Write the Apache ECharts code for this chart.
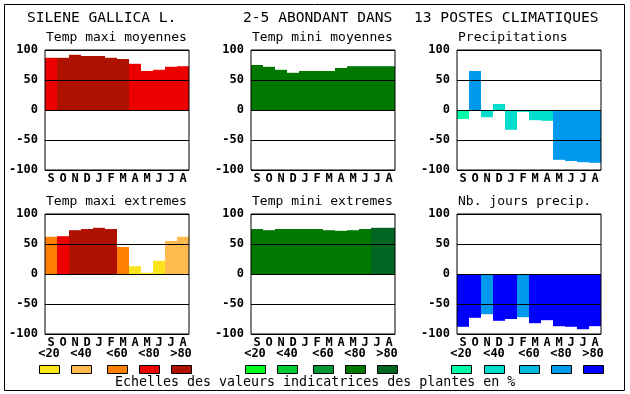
<!DOCTYPE html>
<html><head><meta charset="utf-8">
<script src="https://cdn.jsdelivr.net/npm/echarts@6/dist/echarts.min.js"></script>
<style>html,body{margin:0;padding:0;background:#fff}#c{width:630px;height:394px}</style>
</head><body><div id="c"></div>
<script>
var months = ['S','O','N','D','J','F','M','A','M','J','J','A'];
var yTicks = [-100, -50, 0, 50, 100];
var legendLabels = ['<20','<40','<60','<80','>80'];
var titleParts = ['SILENE GALLICA L.', '2-5 ABONDANT DANS', '13 POSTES CLIMATIQUES'];
var panelTitles = ['Temp maxi moyennes','Temp mini moyennes','Precipitations','Temp maxi extremes','Temp mini extremes','Nb. jours precip.'];
var footText = 'Echelles des valeurs indicatrices des plantes en %';

// values
var tempMaxiMoy = [87, 87, 92, 90, 90, 87, 85, 77, 65, 67, 72, 73];
var tempMiniMoy = [75, 72, 67, 62, 65, 65, 65, 70, 73, 73, 73, 73];
var precip      = [-15, 65, -12, 10, -33, -3, -17, -18, -83, -85, -87, -88];
var tempMaxiExt = [62, 63, 73, 75, 77, 75, 45, 13, 2, 22, 55, 62];
var tempMiniExt = [75, 73, 75, 75, 75, 75, 73, 72, 73, 75, 77, 77];
var joursPrec   = [-88, -73, -67, -78, -75, -72, -82, -77, -87, -88, -92, -87];

// indicator class (0..4 = <20,<40,<60,<80,>80) of each bar
var clsMaxiMoy = [3,4,4,4,4,4,4,3,3,3,3,3];
var clsMiniMoy = [3,3,3,3,3,3,3,3,3,3,3,3];
var clsPrecip  = [0,3,1,1,1,1,1,1,3,3,3,3];
var clsMaxiExt = [2,3,4,4,4,4,2,0,0,0,1,1];
var clsMiniExt = [3,3,3,3,3,3,3,3,3,3,4,4];
var clsJours   = [4,4,3,4,4,3,4,4,4,4,4,4];

var maxiColors = ['#FAE51C','#FFBB50','#FF8000','#EC0000','#AE1100'];
var miniColors = ['#00FF1E','#00CC33','#009933','#007800','#006622'];
var precColors = ['#00FFAA','#00DDCC','#00BBDD','#0099EE','#0000FF'];

var FONT = 'DejaVu Sans Mono';
var panels = [
  {vals: tempMaxiMoy, cls: clsMaxiMoy, pal: maxiColors},
  {vals: tempMiniMoy, cls: clsMiniMoy, pal: miniColors},
  {vals: precip,      cls: clsPrecip,  pal: precColors},
  {vals: tempMaxiExt, cls: clsMaxiExt, pal: maxiColors},
  {vals: tempMiniExt, cls: clsMiniExt, pal: miniColors},
  {vals: joursPrec,   cls: clsJours,   pal: precColors}
];
var lefts = [45, 251, 457];
var tops = [50, 214];

var grids = [], xAxes = [], yAxes = [], series = [], graphics = [];
panels.forEach(function(p, i){
  var col = i % 3, row = Math.floor(i / 3);
  grids.push({left: lefts[col], top: tops[row], width: 144, height: 120,
    show: true, borderColor: '#000', borderWidth: 1, backgroundColor: 'transparent', z: 10});
  xAxes.push({type: 'category', gridIndex: i, data: months,
    axisLine: {show: false}, axisTick: {show: false}, splitLine: {show: false},
    axisLabel: {color: '#000', fontFamily: FONT, fontWeight: 'bold', fontSize: 12, margin: 3, interval: 0}});
  yAxes.push({type: 'value', gridIndex: i, min: yTicks[0], max: yTicks[yTicks.length-1], interval: 50, z: 5,
    axisLine: {show: false}, axisTick: {show: false},
    splitLine: {show: true, lineStyle: {color: '#000', width: 1}},
    axisLabel: {color: '#000', fontFamily: FONT, fontWeight: 'bold', fontSize: 12, margin: 7}});
  series.push({type: 'bar', xAxisIndex: i, yAxisIndex: i, barWidth: '100%', barGap: '0%',
    data: p.vals.map(function(v, k){ return {value: v, itemStyle: {color: p.pal[p.cls[k]]}}; }),
    silent: true, animation: false});
  graphics.push({type: 'text', x: lefts[col] + 1, y: tops[row] - 12,
    style: {text: panelTitles[i], font: '13px "' + FONT + '"', fill: '#000', verticalAlign: 'middle'}});
});

// outer frame
graphics.push({type: 'rect', shape: {x: 4.5, y: 4.5, width: 620, height: 386},
  style: {fill: 'none', stroke: '#000', lineWidth: 1}, z: 20});
// main title
var titleX = [27, 243, 414];
titleParts.forEach(function(t, k){
  graphics.push({type: 'text', x: titleX[k], y: 18,
    style: {text: t, font: '14.6px "' + FONT + '"', fill: '#000', verticalAlign: 'middle'}});
});
// legends
var groupX = [[39,71,107,139,171],[245,277,313,345,377],[451,484,519,551,583]];
var pals = [maxiColors, miniColors, precColors];
groupX.forEach(function(xs, g){
  xs.forEach(function(x, k){
    graphics.push({type: 'rect', shape: {x: x + 0.5, y: 365.5, width: 20, height: 8},
      style: {fill: pals[g][k], stroke: '#000', lineWidth: 1}});
    graphics.push({type: 'text', x: x + 10, y: 354,
      style: {text: legendLabels[k], font: 'bold 12px "' + FONT + '"', fill: '#000', align: 'center', verticalAlign: 'middle'}});
  });
});
graphics.push({type: 'text', x: 115, y: 383,
  style: {text: footText, font: '13.3px "' + FONT + '"', fill: '#000', verticalAlign: 'middle'}});

var chart = echarts.init(document.getElementById('c'), null, {renderer: 'canvas'});
chart.setOption({
  animation: false,
  backgroundColor: '#fff',
  grid: grids, xAxis: xAxes, yAxis: yAxes, series: series,
  graphic: graphics
});
</script></body></html>
